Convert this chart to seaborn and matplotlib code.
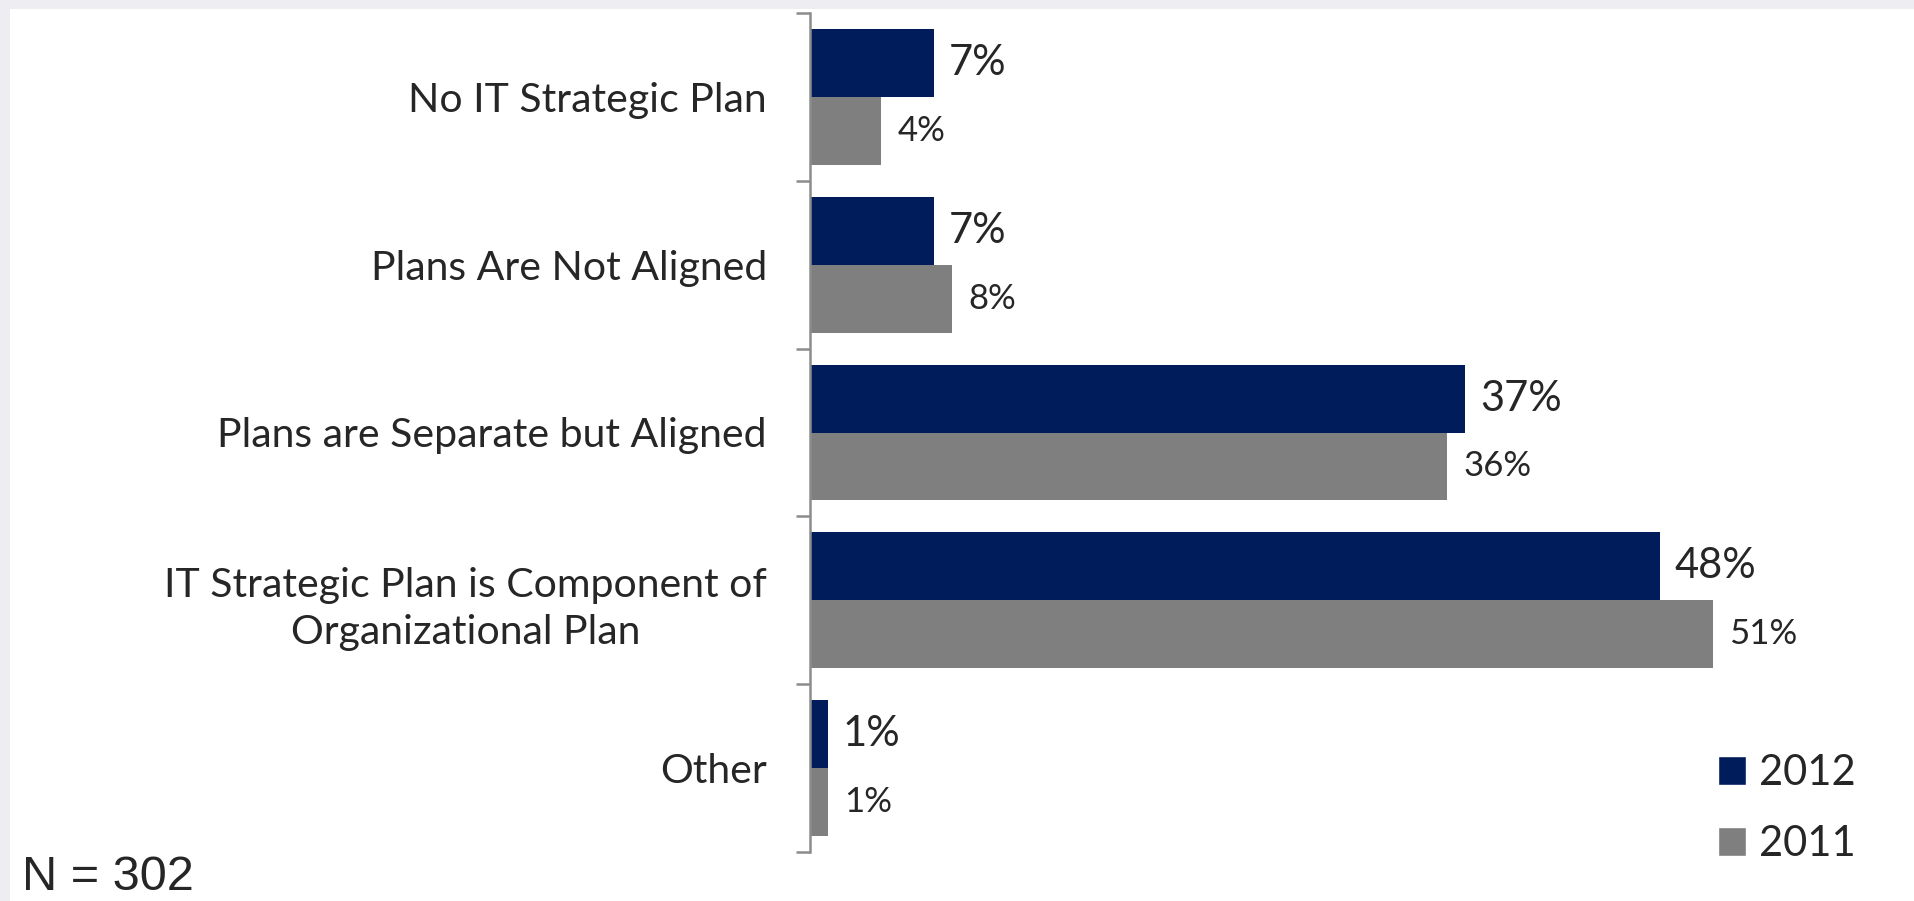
import matplotlib.pyplot as plt
import pandas as pd
import seaborn as sns
from matplotlib.patches import Patch, Rectangle
from matplotlib.ticker import FixedLocator

# data
categories = [
    "No IT Strategic Plan",
    "Plans Are Not Aligned",
    "Plans are Separate but Aligned",
    "IT Strategic Plan is Component of\nOrganizational Plan",
    "Other",
]
years = ["2012", "2011"]
values_2012 = [7, 7, 37, 48, 1]
values_2011 = [4, 8, 36, 51, 1]
sample_note = "N = 302"

NAVY = "#001c5a"
GREY = "#7f7f7f"

df = pd.DataFrame(
    {
        "category": categories * 2,
        "year": [years[0]] * len(categories) + [years[1]] * len(categories),
        "pct": values_2012 + values_2011,
    }
)

sns.set_style("white")
plt.rcParams["font.family"] = ["Lato", "DejaVu Sans"]

fig = plt.figure(figsize=(19.14, 9.01), dpi=100, facecolor="white")
ax = fig.add_axes([810 / 1914, 1 - 852 / 901, 1 - 810 / 1914, (852 - 13) / 901])

sns.barplot(
    data=df, y="category", x="pct", hue="year", hue_order=years,
    order=categories, palette=[NAVY, GREY], width=0.81, orient="h",
    saturation=1, legend=False, linewidth=0, ax=ax,
)

ax.set_xlim(0, (1914 - 810) / 17.7)
ax.set_ylim(len(categories) - 0.5, -0.5)
ax.set_xlabel("")
ax.set_ylabel("")
ax.set_facecolor("none")
ax.xaxis.set_visible(False)
for side in ["top", "right", "bottom"]:
    ax.spines[side].set_visible(False)
ax.spines["left"].set_color("#8c8c8c")
ax.spines["left"].set_linewidth(1.8)

# category labels at centres, tick marks at the boundaries
ax.tick_params(axis="y", which="major", length=0, pad=31, labelsize=29.5)
ax.yaxis.set_minor_locator(FixedLocator([i - 0.5 for i in range(len(categories) + 1)]))
ax.tick_params(axis="y", which="minor", length=10, width=1.8, color="#8c8c8c", left=True)
for lbl in ax.get_yticklabels():
    lbl.set_multialignment("center")
    lbl.set_linespacing(1.35)

ax.bar_label(ax.containers[0], fmt="%d%%", padding=11, fontsize=30)
ax.bar_label(ax.containers[1], fmt="%d%%", padding=12, fontsize=25)

handles = [Patch(facecolor=NAVY), Patch(facecolor=GREY)]
fig.legend(
    handles, years, loc="upper left", bbox_to_anchor=(1718 / 1914, 1 - 754 / 901),
    frameon=False, fontsize=30, handlelength=0.68, handleheight=0.68,
    handletextpad=0.3, labelspacing=0.8, borderpad=0, borderaxespad=0,
)

fig.text(22 / 1914, 1 - 878 / 901, sample_note, fontsize=35,
         family="Liberation Sans", va="center", ha="left")

# light frame strips along the top and left edges of the slide
fig.patches.append(Rectangle((0, 1 - 9 / 901), 1, 9 / 901, transform=fig.transFigure,
                             facecolor="#ededf2", edgecolor="none", zorder=-1))
fig.patches.append(Rectangle((0, 0), 10 / 1914, 1, transform=fig.transFigure,
                             facecolor="#ededf2", edgecolor="none", zorder=-1))

fig.savefig("out.png", dpi=100, facecolor=fig.get_facecolor())
